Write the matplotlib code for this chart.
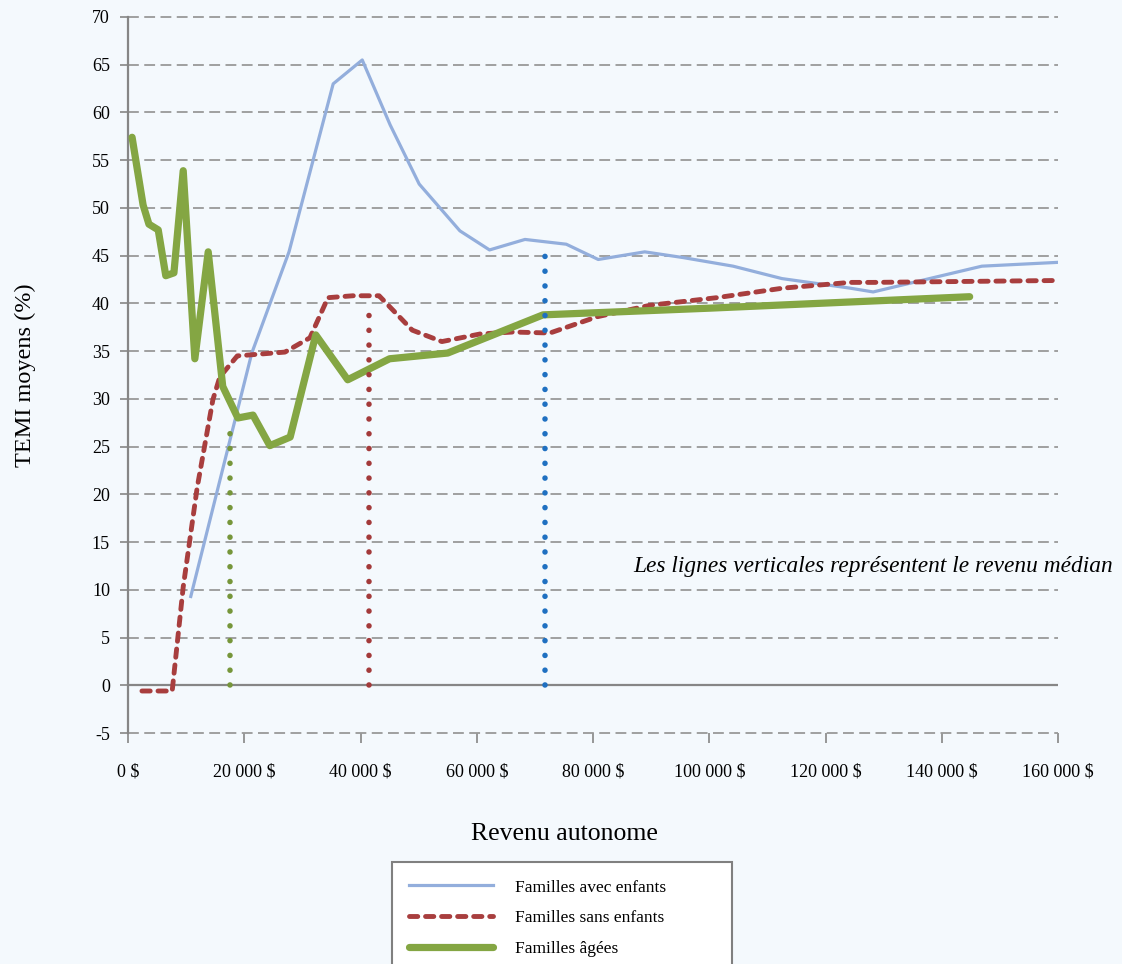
import matplotlib
matplotlib.use("Agg")
from matplotlib import pyplot as plt
from matplotlib.ticker import FuncFormatter

plt.rcParams["font.family"] = ["Liberation Serif", "DejaVu Serif"]
plt.rcParams["axes.unicode_minus"] = False

# Familles avec enfants
avec_x = [10800, 21300, 27700, 35300, 40300, 45100, 50100, 57100, 62200, 68300, 75400,
          80900, 88900, 95500, 104100, 112500, 124200, 128200, 146900, 160000]
avec_y = [9.3, 34.8, 45.4, 63.0, 65.5, 58.7, 52.5, 47.6, 45.6, 46.7, 46.2,
          44.6, 45.4, 44.8, 43.9, 42.6, 41.6, 41.2, 43.9, 44.3]

# Familles sans enfants
sans_x = [2400, 7600, 9500, 11900, 14600, 15800, 18800, 27000, 31300, 34400, 38700, 43200,
          48900, 54000, 60600, 66200, 72600, 80700, 89800, 101300, 112700, 124200, 128200, 160000]
sans_y = [-0.6, -0.6, 10.3, 20.7, 29.9, 32.3, 34.5, 34.9, 36.4, 40.6, 40.8, 40.8,
          37.2, 36.0, 36.8, 37.0, 36.9, 38.6, 39.8, 40.6, 41.6, 42.2, 42.2, 42.4]

# Familles âgées
agees_x = [700, 2600, 3600, 5200, 6500, 7900, 9500, 11500, 13800, 16300, 18900, 21500,
           24400, 27900, 32300, 37800, 45000, 55000, 71400, 100000, 144800]
agees_y = [57.4, 50.3, 48.3, 47.7, 42.9, 43.2, 53.9, 34.2, 45.4, 31.3, 28.0, 28.3,
           25.1, 26.0, 36.7, 32.0, 34.2, 34.8, 38.8, 39.5, 40.7]

# revenu médian (x, hauteur)
med_agees = (17550, 27.8)
med_sans = (41460, 40.1)
med_avec = (71740, 46.2)

labels = ["Familles avec enfants", "Familles sans enfants", "Familles âgées"]

bg = "#f4f9fd"
c_blue = "#93aedc"
c_red = "#a83e3e"
c_green = "#84a643"

fig = plt.figure(figsize=(11.22, 9.64), dpi=100, facecolor=bg)
ax = fig.add_axes([128 / 1122, 1 - 733 / 964, 930 / 1122, 716 / 964])
ax.set_facecolor(bg)

ax.plot(avec_x, avec_y, color=c_blue, lw=2.3, solid_joinstyle="round", zorder=3, label=labels[0])
ax.plot(sans_x, sans_y, color=c_red, lw=3.5, linestyle=(0, (1.7, 1.6)),
        dash_capstyle="round", zorder=4, label=labels[1])
ax.plot(agees_x, agees_y, color=c_green, lw=5.2, solid_capstyle="round",
        solid_joinstyle="round", zorder=5, label=labels[2])

dot = (0, (0.01, 2.65))
for (mx, mh), col in [(med_agees, "#76963a"), (med_sans, "#a33a3a"), (med_avec, "#1f70c1")]:
    ax.plot([mx, mx], [0, mh], color=col, lw=4, linestyle=dot,
            dash_capstyle="round", zorder=6)

ax.set_xlim(0, 160000)
ax.set_ylim(-5, 70)
ax.set_xticks(range(0, 160001, 20000))
ax.set_yticks(range(-5, 71, 5))

ax.xaxis.set_major_formatter(FuncFormatter(
    lambda v, p: "{:,.0f} $".format(v).replace(",", " ")))

ax.grid(axis="y", color="#999999", lw=1.3, linestyle=(0, (6, 3)))
for gl in ax.yaxis.get_gridlines():
    gl.set_clip_on(False)
ax.set_axisbelow(True)
ax.axhline(0, color="#868686", lw=1.6, zorder=2)

for s in ["top", "right", "bottom"]:
    ax.spines[s].set_visible(False)
ax.spines["left"].set_color("#868686")
ax.spines["left"].set_linewidth(1.6)

ax.tick_params(axis="y", length=6, width=1.2, color="#868686", pad=7, labelsize=13)
ax.tick_params(axis="x", length=7, width=1.2, color="#868686", pad=15, labelsize=13)

ax.set_xlabel("Revenu autonome", fontsize=18.5, labelpad=28)
ax.xaxis.set_label_coords((564 - 128) / 930, -0.125)
ax.set_ylabel("TEMI moyens (%)", fontsize=17.5, labelpad=40)

ax.text(169500, 12.4, "Les lignes verticales représentent le revenu médian",
        style="italic", fontsize=16.8, ha="right", va="center", clip_on=False)

leg = fig.legend(loc="upper left", bbox_to_anchor=(392 / 1122, 1 - 862 / 964, 340 / 1122, 0),
                 mode="expand", borderaxespad=0, fontsize=12.5, handlelength=4.8,
                 handletextpad=1.3, borderpad=1.0, labelspacing=0.85,
                 fancybox=False, framealpha=1, edgecolor="#808080")
leg.get_frame().set_linewidth(1.5)
leg.get_frame().set_facecolor("white")

fig.savefig("out.png", dpi=100, facecolor=bg)
